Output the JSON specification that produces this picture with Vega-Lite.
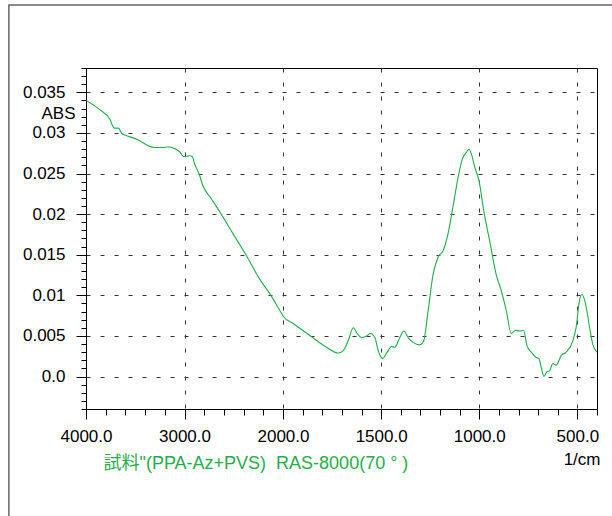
{
  "$schema": "https://vega.github.io/schema/vega-lite/v6.json",
  "width": 511,
  "height": 341,
  "autosize": {"type": "none"},
  "padding": {"left": 86, "top": 68, "right": 15, "bottom": 107},
  "background": "white",
  "config": {
    "view": {"stroke": "black", "strokeWidth": 1},
    "font": "Liberation Sans",
    "axis": {
      "domainColor": "black",
      "tickColor": "black",
      "labelColor": "black",
      "labelFont": "Liberation Sans",
      "labelFontSize": 17,
      "gridColor": "#333333",
      "gridDash": [4, 10],
      "gridWidth": 1,
      "titleFont": "Liberation Sans, Noto Sans CJK JP",
      "titleFontSize": 17,
      "titleFontWeight": "normal",
      "titleColor": "black"
    }
  },
  "data": {
    "values": [
      {"wn": 4000, "abs": 0.0340},
      {"wn": 3865, "abs": 0.0329},
      {"wn": 3756, "abs": 0.03165},
      {"wn": 3735, "abs": 0.0310},
      {"wn": 3712, "abs": 0.0306},
      {"wn": 3671, "abs": 0.0306},
      {"wn": 3634, "abs": 0.0299},
      {"wn": 3593, "abs": 0.0297},
      {"wn": 3458, "abs": 0.02907},
      {"wn": 3373, "abs": 0.02845},
      {"wn": 3305, "abs": 0.0282},
      {"wn": 3220, "abs": 0.0282},
      {"wn": 3169, "abs": 0.0283},
      {"wn": 3102, "abs": 0.0281},
      {"wn": 3051, "abs": 0.0277},
      {"wn": 3010, "abs": 0.0271},
      {"wn": 2983, "abs": 0.0271},
      {"wn": 2949, "abs": 0.0272},
      {"wn": 2922, "abs": 0.0271},
      {"wn": 2898, "abs": 0.0262},
      {"wn": 2853, "abs": 0.0250},
      {"wn": 2813, "abs": 0.0235},
      {"wn": 2728, "abs": 0.0219},
      {"wn": 2627, "abs": 0.0200},
      {"wn": 2508, "abs": 0.0176},
      {"wn": 2372, "abs": 0.0149},
      {"wn": 2237, "abs": 0.0120},
      {"wn": 2118, "abs": 0.0099},
      {"wn": 2031, "abs": 0.0081},
      {"wn": 1998, "abs": 0.0074},
      {"wn": 1947, "abs": 0.0065},
      {"wn": 1863, "abs": 0.00505},
      {"wn": 1778, "abs": 0.0036},
      {"wn": 1719, "abs": 0.0029},
      {"wn": 1693, "abs": 0.0032},
      {"wn": 1668, "abs": 0.0044},
      {"wn": 1642, "abs": 0.0060},
      {"wn": 1622, "abs": 0.0053},
      {"wn": 1600, "abs": 0.0048},
      {"wn": 1574, "abs": 0.0050},
      {"wn": 1554, "abs": 0.0053},
      {"wn": 1532, "abs": 0.0048},
      {"wn": 1515, "abs": 0.0032},
      {"wn": 1493, "abs": 0.0022},
      {"wn": 1469, "abs": 0.0030},
      {"wn": 1447, "abs": 0.0037},
      {"wn": 1430, "abs": 0.0036},
      {"wn": 1405, "abs": 0.0048},
      {"wn": 1384, "abs": 0.0056},
      {"wn": 1362, "abs": 0.0048},
      {"wn": 1337, "abs": 0.0042},
      {"wn": 1303, "abs": 0.0039},
      {"wn": 1283, "abs": 0.0044},
      {"wn": 1261, "abs": 0.0080},
      {"wn": 1235, "abs": 0.0126},
      {"wn": 1210, "abs": 0.0147},
      {"wn": 1184, "abs": 0.0155},
      {"wn": 1159, "abs": 0.0176},
      {"wn": 1134, "abs": 0.0209},
      {"wn": 1108, "abs": 0.0245},
      {"wn": 1086, "abs": 0.0268},
      {"wn": 1066, "abs": 0.0276},
      {"wn": 1052, "abs": 0.0280},
      {"wn": 1040, "abs": 0.0274},
      {"wn": 1023, "abs": 0.0258},
      {"wn": 1001, "abs": 0.0241},
      {"wn": 977, "abs": 0.0204},
      {"wn": 947, "abs": 0.0167},
      {"wn": 910, "abs": 0.0122},
      {"wn": 893, "abs": 0.0110},
      {"wn": 862, "abs": 0.0081},
      {"wn": 837, "abs": 0.0053},
      {"wn": 815, "abs": 0.0057},
      {"wn": 794, "abs": 0.0056},
      {"wn": 774, "abs": 0.0057},
      {"wn": 757, "abs": 0.0038},
      {"wn": 735, "abs": 0.0030},
      {"wn": 713, "abs": 0.0024},
      {"wn": 696, "abs": 0.0022},
      {"wn": 684, "abs": 0.0011},
      {"wn": 670, "abs": 0.0000},
      {"wn": 655, "abs": 0.0006},
      {"wn": 642, "abs": 0.0007},
      {"wn": 625, "abs": 0.0016},
      {"wn": 608, "abs": 0.0014},
      {"wn": 582, "abs": 0.0026},
      {"wn": 557, "abs": 0.0030},
      {"wn": 523, "abs": 0.0044},
      {"wn": 506, "abs": 0.0061},
      {"wn": 489, "abs": 0.0094},
      {"wn": 476, "abs": 0.0101},
      {"wn": 459, "abs": 0.0090},
      {"wn": 438, "abs": 0.0061},
      {"wn": 422, "abs": 0.0040},
      {"wn": 401, "abs": 0.0030}
    ]
  },
  "resolve": {"axis": {"y": "independent"}},
  "layer": [
    {
      "mark": {"type": "line", "color": "#1fae4a", "strokeWidth": 1.1, "interpolate": "monotone", "clip": true},
      "encoding": {
        "x": {
          "field": "wn",
          "type": "quantitative",
          "scale": {"domain": [4000, 2000, 400], "range": [0, 197, 511], "nice": false, "zero": false},
          "axis": {
            "values": [4000, 3800, 3600, 3400, 3200, 3000, 2800, 2600, 2400, 2200, 2000, 1900, 1800, 1700, 1600, 1500, 1400, 1300, 1200, 1100, 1000, 900, 800, 700, 600, 500, 400],
            "tickCount": 200,
            "labelExpr": "indexof([4000,3000,2000,1500,1000,500], datum.value) >= 0 ? format(datum.value, '.1f') : ''",
            "tickSize": {"condition": {"test": "indexof([4000,3000,2000,1500,1000,500], datum.value) >= 0", "value": 10}, "value": 6},
            "gridOpacity": {"condition": {"test": "indexof([3000,2000,1500,1000,500], datum.value) >= 0", "value": 1}, "value": 0},
            "grid": true,
            "labelPadding": 9,
            "labelFlush": false,
            "labelOverlap": false,
            "title": "試料\"(PPA-Az+PVS)\u00a0\u00a0RAS-8000(70\u00a0°\u00a0)",
            "titleColor": "#1fae4a",
            "titleFontSize": 18,
            "titleAlign": "left",
            "titleAnchor": "start",
            "titleBaseline": "alphabetic",
            "titleX": 17,
            "titleY": 59
          }
        },
        "y": {
          "field": "abs",
          "type": "quantitative",
          "scale": {"domain": [-0.004, 0.038], "nice": false, "zero": false},
          "axis": {
            "orient": "left",
            "values": [-0.004, -0.003, -0.002, -0.001, 0, 0.001, 0.002, 0.003, 0.004, 0.005, 0.006, 0.007, 0.008, 0.009, 0.01, 0.011, 0.012, 0.013, 0.014, 0.015, 0.016, 0.017, 0.018, 0.019, 0.02, 0.021, 0.022, 0.023, 0.024, 0.025, 0.026, 0.027, 0.028, 0.029, 0.03, 0.031, 0.032, 0.033, 0.034, 0.035, 0.036, 0.037, 0.038],
            "tickCount": 200,
            "labelExpr": "abs(datum.value * 200 - round(datum.value * 200)) < 0.000001 && datum.value >= 0 ? (datum.value == 0 ? '0.0' : format(datum.value, '.3~f')) : ''",
            "tickSize": {"condition": {"test": "abs(datum.value * 200 - round(datum.value * 200)) < 0.000001 && datum.value >= 0", "value": 10}, "value": 5},
            "gridOpacity": {"condition": {"test": "abs(datum.value * 200 - round(datum.value * 200)) < 0.000001 && datum.value >= 0", "value": 1}, "value": 0},
            "grid": true,
            "labelPadding": 11,
            "labelFlush": false,
            "labelOverlap": false,
            "title": "ABS",
            "titleAngle": 0,
            "titleAlign": "right",
            "titleBaseline": "alphabetic",
            "titleX": -11,
            "titleY": 50
          }
        }
      }
    },
    {
      "data": {"values": [{}]},
      "mark": {"type": "rect", "fill": null, "filled": false, "stroke": "#666666", "strokeWidth": 1.5},
      "encoding": {
        "x": {"datum": 4783, "type": "quantitative"},
        "x2": {"datum": 300},
        "y": {
          "datum": 0.04576,
          "type": "quantitative",
          "axis": {
            "orient": "right",
            "domain": false,
            "ticks": false,
            "labels": false,
            "grid": false,
            "title": "1/cm",
            "titleAngle": 0,
            "titleAlign": "right",
            "titleBaseline": "alphabetic",
            "titleX": 3,
            "titleY": 396
          }
        },
        "y2": {"datum": -0.02}
      }
    }
  ]
}
